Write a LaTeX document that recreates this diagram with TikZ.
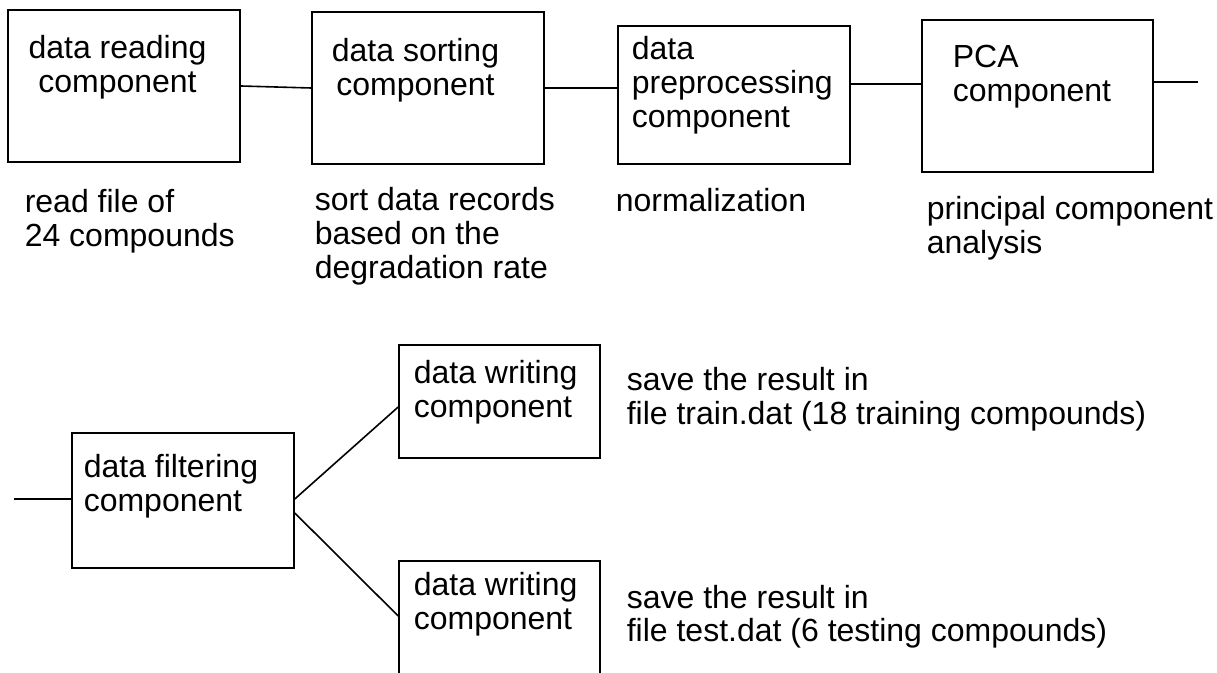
\documentclass[tikz,border=0pt]{standalone}
\usepackage{fontspec}
\setmainfont{Liberation Sans}

\begin{document}
\begin{tikzpicture}[x=0.5pt, y=-0.5pt, line width=0.8pt,
    every node/.style={font=\fontsize{16}{17}\selectfont, inner sep=0pt},
    compbox/.style={draw},
    note/.style={anchor=base west, align=left}]
    \path[use as bounding box, clip] (0,0) rectangle (1217,673);

    % top row of components
    \node[compbox, minimum width=116pt, minimum height=76pt] (read) at (124,86) {};
    \node[compbox, minimum width=116pt, minimum height=76pt] (sort) at (428,88) {};
    \node[compbox, minimum width=116pt, minimum height=69pt] (prep) at (734,95) {};
    \node[compbox, minimum width=115.5pt, minimum height=76pt] (pca) at (1037.5,96) {};

    % base of a text = baseline of its last line
    \node[anchor=base, align=center] (readtxt) at (117.5,93) {data reading\\component};
    \node[anchor=base, align=center] (sorttxt) at (415.5,96) {data sorting\\component};
    \node[note] (preptxt) at (631,128) {data\\preprocessing\\component};
    \node[note] (pcatxt) at (952,102) {PCA\\component};

    \node[note] (readnote) at (24,247) {read file of\\24 compounds};
    \node[note] (sortnote) at (314,279) {sort data records\\based on the\\degradation rate};
    \node[note] (prepnote) at (615,212) {normalization};
    \node[note] (pcanote) at (926,254) {principal component\\analysis};

    \coordinate (pcaout) at (1198,82);
    \draw (read.east) -- (sort.west);
    \draw (sort.east) -- (sort.east -| prep.west);
    \draw ([yshift=5.5pt]prep.east) -- ([yshift=5.5pt]prep.east -| pca.west);
    \draw (pcaout -| pca.east) -- (pcaout);

    % filtering and writing
    \node[compbox, minimum width=111pt, minimum height=67.5pt] (filter) at (183,500.5) {};
    \node[compbox, minimum width=100.5pt, minimum height=56.5pt] (writetrain) at (499.5,401.5) {};
    \node[compbox, minimum width=100.5pt, minimum height=57.5pt] (writetest) at (499.5,618.5) {};

    \node[note] (filtertxt) at (83,512) {data filtering\\component};
    \node[note] (traintxt) at (413,418) {data writing\\component};
    \node[note] (testtxt) at (413,630) {data writing\\component};
    \node[note] (trainnote) at (626,425) {save the result in\\file train.dat (18 training compounds)};
    \node[note] (testnote) at (626,642) {save the result in\\file test.dat (6 testing compounds)};

    \coordinate (filterin) at (14,499);
    \draw (filterin) -- (filterin -| filter.west);
    \draw ([yshift=0.75pt]filter.east) -- ([yshift=-2.75pt]writetrain.west);
    \draw ([yshift=-6.25pt]filter.east) -- ([yshift=1.25pt]writetest.west);
\end{tikzpicture}
\end{document}
